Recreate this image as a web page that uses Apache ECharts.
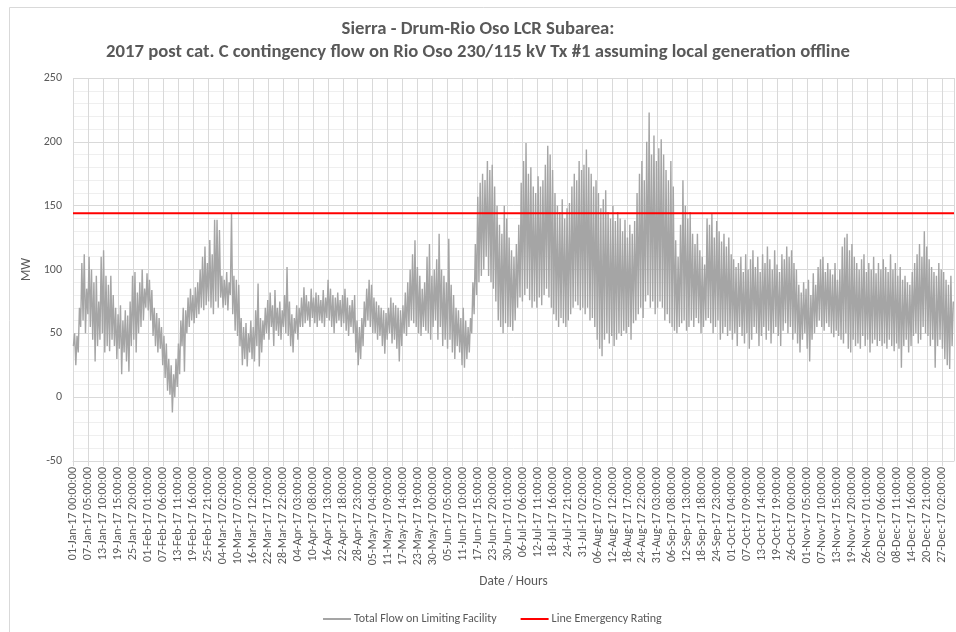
<!DOCTYPE html>
<html>
<head>
<meta charset="utf-8">
<script src="https://cdn.jsdelivr.net/npm/echarts@6/dist/echarts.min.js"></script>
<style>html,body{margin:0;padding:0;background:#fff}#c{width:956px;height:632px}</style>
</head>
<body>
<div id="c"></div>
<script>
// Daily [low, high] pairs (MW), one pair per day
const jan = [40,50, 25,48, 35,70, 55,105, 60,112, 50,85, 65,110, 55,100, 45,90, 28,95, 40,75, 45,110, 50,115, 35,95, 40,88, 36,95, 45,80, 40,70, 30,65, 38,72, 18,60, 35,68, 28,64, 20,75, 40,95, 45,98, 35,82, 50,90, 55,100, 60,85, 70,97];
const feb = [68,92, 60,84, 48,70, 40,66, 35,62, 38,55, 25,48, 15,42, 5,30, 2,25, -12,18, 0,30, 8,42, 18,60, 40,70, 20,68, 50,78, 55,85, 60,80, 58,86, 62,90, 65,100, 70,110, 68,118, 72,105, 75,123, 70,112, 65,139];
const mar = [75,139, 70,131, 78,95, 70,92, 72,98, 68,90, 80,144, 65,95, 52,92, 48,88, 40,62, 25,55, 30,58, 24,50, 35,60, 30,55, 28,68, 40,89, 24,62, 35,60, 45,70, 50,76, 45,82, 55,72, 40,84, 52,70, 48,75, 45,68, 55,80, 50,102, 48,75];
const apr = [40,65, 35,62, 50,72, 45,70, 55,78, 55,86, 58,80, 60,75, 55,85, 62,78, 58,82, 55,80, 60,76, 58,84, 55,78, 62,92, 60,85, 55,80, 50,78, 58,82, 60,76, 55,80, 58,85, 52,78, 48,72, 55,76, 50,80, 35,60, 25,55, 30,62];
const may = [40,75, 55,85, 60,92, 55,88, 50,78, 50,75, 45,72, 48,70, 40,68, 34,66, 45,70, 50,78, 42,74, 45,72, 38,70, 28,68, 40,72, 50,82, 48,90, 55,100, 60,112, 58,123, 55,102, 50,95, 48,85, 55,90, 52,110, 50,120, 45,95, 55,100, 60,108];
const jun = [45,128, 55,100, 40,95, 45,90, 38,124, 45,88, 35,80, 30,70, 40,68, 35,62, 25,70, 23,60, 30,55, 35,62, 50,90, 65,120, 80,157, 90,168, 95,175, 100,170, 110,185, 95,178, 90,182, 85,165, 75,150, 60,135, 55,128, 50,150, 58,140, 55,125];
const jul = [55,115, 52,110, 60,120, 70,135, 78,168, 75,185, 80,199, 85,175, 76,180, 70,165, 75,160, 70,173, 78,165, 72,170, 80,182, 85,197, 78,190, 70,178, 65,160, 60,150, 55,145, 62,155, 58,140, 55,148, 60,152, 65,165, 70,175, 75,170, 72,185, 68,178, 70,182];
const aug = [65,194, 70,180, 60,175, 62,165, 55,170, 45,160, 38,148, 32,155, 45,162, 50,145, 42,140, 48,150, 40,138, 45,145, 50,140, 48,130, 52,139, 50,125, 55,135, 45,128, 58,138, 60,160, 65,175, 70,185, 62,170, 75,200, 80,223, 70,190, 75,205, 65,185, 70,195];
const sep = [75,202, 70,190, 60,178, 65,170, 58,185, 55,165, 52,123, 50,110, 55,135, 58,170, 60,150, 52,140, 55,145, 60,128, 55,120, 62,128, 58,115, 50,110, 55,104, 60,140, 62,135, 58,144, 50,125, 55,138, 60,130, 45,122, 50,128, 55,118, 48,125, 52,112];
const oct = [45,108, 50,102, 40,105, 55,110, 48,98, 42,112, 50,100, 38,108, 45,115, 55,102, 50,110, 40,98, 48,112, 55,105, 45,118, 52,108, 42,100, 50,115, 55,104, 48,98, 40,112, 52,108, 58,118, 50,110, 55,115, 45,105, 50,100, 42,88, 35,82, 45,90, 50,85];
const nov = [38,92, 28,80, 45,97, 50,88, 55,102, 60,108, 55,110, 52,98, 58,105, 55,100, 50,96, 47,105, 52,92, 48,100, 45,118, 42,125, 50,128, 38,115, 35,120, 45,110, 40,105, 42,100, 38,108, 48,112, 40,98, 45,105, 35,100, 42,110, 45,97, 40,105];
const dec = [44,100, 40,108, 42,102, 38,98, 45,112, 40,100, 36,105, 42,95, 38,102, 23,92, 40,95, 45,90, 35,88, 40,98, 48,105, 50,112, 42,120, 45,110, 55,130, 50,118, 48,108, 40,102, 45,98, 23,95, 40,105, 45,100, 38,98, 30,92, 25,88, 22,95, 40,75];

const ratingValue = [144, 144];
const tickLabels = ["01-Jan-17 00:00:00","07-Jan-17 05:00:00","13-Jan-17 10:00:00","19-Jan-17 15:00:00","25-Jan-17 20:00:00","01-Feb-17 01:00:00","07-Feb-17 06:00:00","13-Feb-17 11:00:00","19-Feb-17 16:00:00","25-Feb-17 21:00:00","04-Mar-17 02:00:00","10-Mar-17 07:00:00","16-Mar-17 12:00:00","22-Mar-17 17:00:00","28-Mar-17 22:00:00","04-Apr-17 03:00:00","10-Apr-17 08:00:00","16-Apr-17 13:00:00","22-Apr-17 18:00:00","28-Apr-17 23:00:00","05-May-17 04:00:00","11-May-17 09:00:00","17-May-17 14:00:00","23-May-17 19:00:00","30-May-17 00:00:00","05-Jun-17 05:00:00","11-Jun-17 10:00:00","17-Jun-17 15:00:00","23-Jun-17 20:00:00","30-Jun-17 01:00:00","06-Jul-17 06:00:00","12-Jul-17 11:00:00","18-Jul-17 16:00:00","24-Jul-17 21:00:00","31-Jul-17 02:00:00","06-Aug-17 07:00:00","12-Aug-17 12:00:00","18-Aug-17 17:00:00","24-Aug-17 22:00:00","31-Aug-17 03:00:00","06-Sep-17 08:00:00","12-Sep-17 13:00:00","18-Sep-17 18:00:00","24-Sep-17 23:00:00","01-Oct-17 04:00:00","07-Oct-17 09:00:00","13-Oct-17 14:00:00","19-Oct-17 19:00:00","26-Oct-17 00:00:00","01-Nov-17 05:00:00","07-Nov-17 10:00:00","13-Nov-17 15:00:00","19-Nov-17 20:00:00","26-Nov-17 01:00:00","02-Dec-17 06:00:00","08-Dec-17 11:00:00","14-Dec-17 16:00:00","20-Dec-17 21:00:00","27-Dec-17 02:00:00"];
const labelStep = 149;   // hours between axis labels
const yearHours = 8759;

const all = [].concat(jan, feb, mar, apr, may, jun, jul, aug, sep, oct, nov, dec);
const flowData = all.map((v, i) => [Math.floor(i / 2) * 24 + (i % 2 ? 16 : 4), v]);
const ratingData = [[0, ratingValue[0]], [yearHours, ratingValue[1]]];

const FONT = 'Carlito, "Liberation Sans", sans-serif';
const chart = echarts.init(document.getElementById('c'), null, {renderer: 'canvas'});
chart.setOption({
  animation: false,
  backgroundColor: '#fff',
  graphic: [{type: 'rect', left: 7, top: 5, shape: {width: 960, height: 640}, style: {fill: 'none', stroke: '#d9d9d9', lineWidth: 1}, silent: true}],
  title: {
    text: 'Sierra - Drum-Rio Oso LCR Subarea:\n2017 post cat. C contingency flow on Rio Oso 230/115 kV Tx #1 assuming local generation offline',
    left: 'center', top: 13,
    textStyle: {fontFamily: FONT, fontSize: 18.7, fontWeight: 'bold', color: '#595959', lineHeight: 23}
  },
  legend: {
    bottom: 2, left: 318, itemGap: 24, itemWidth: 28, itemHeight: 2, icon: 'rect',
    textStyle: {fontFamily: FONT, fontSize: 12, color: '#595959', padding: [0, 0, 0, -2]},
    data: ['Total Flow on Limiting Facility', 'Line Emergency Rating']
  },
  grid: {left: 73, right: 2, top: 78, bottom: 171, containLabel: false},
  xAxis: {
    type: 'value', min: 0, max: yearHours, interval: labelStep,
    name: 'Date / Hours', nameLocation: 'middle', nameGap: 114,
    nameTextStyle: {fontFamily: FONT, fontSize: 13.3, color: '#595959'},
    axisLine: {onZero: false, lineStyle: {color: '#d9d9d9'}},
    axisTick: {show: true, length: 5, lineStyle: {color: '#d9d9d9'}},
    splitLine: {show: true, lineStyle: {color: '#d9d9d9', width: 1}},
    axisLabel: {
      rotate: 90, fontFamily: FONT, fontSize: 12, color: '#595959', margin: 6,
      showMaxLabel: false,
      formatter: v => (v % labelStep === 0 ? (tickLabels[v / labelStep] || '') : '')
    }
  },
  yAxis: {
    type: 'value', min: -50, max: 250, interval: 50,
    name: 'MW', nameLocation: 'middle', nameGap: 27,
    nameTextStyle: {fontFamily: FONT, fontSize: 13.3, color: '#595959'},
    axisLine: {show: false}, axisTick: {show: false},
    axisLabel: {fontFamily: FONT, fontSize: 12, color: '#595959', margin: 11},
    splitLine: {show: true, lineStyle: {color: '#d9d9d9'}},
    minorTick: {show: false, splitNumber: 5},
    minorSplitLine: {show: true, lineStyle: {color: '#efefef'}}
  },
  series: [
    {name: 'Total Flow on Limiting Facility', type: 'line', data: flowData, symbol: 'none',
     lineStyle: {color: '#a5a5a5', width: 1.4}, itemStyle: {color: '#a5a5a5'}, z: 2},
    {name: 'Line Emergency Rating', type: 'line', data: ratingData, symbol: 'none',
     lineStyle: {color: '#ff0000', width: 2}, itemStyle: {color: '#ff0000'}, z: 3}
  ]
});
</script>
</body>
</html>
